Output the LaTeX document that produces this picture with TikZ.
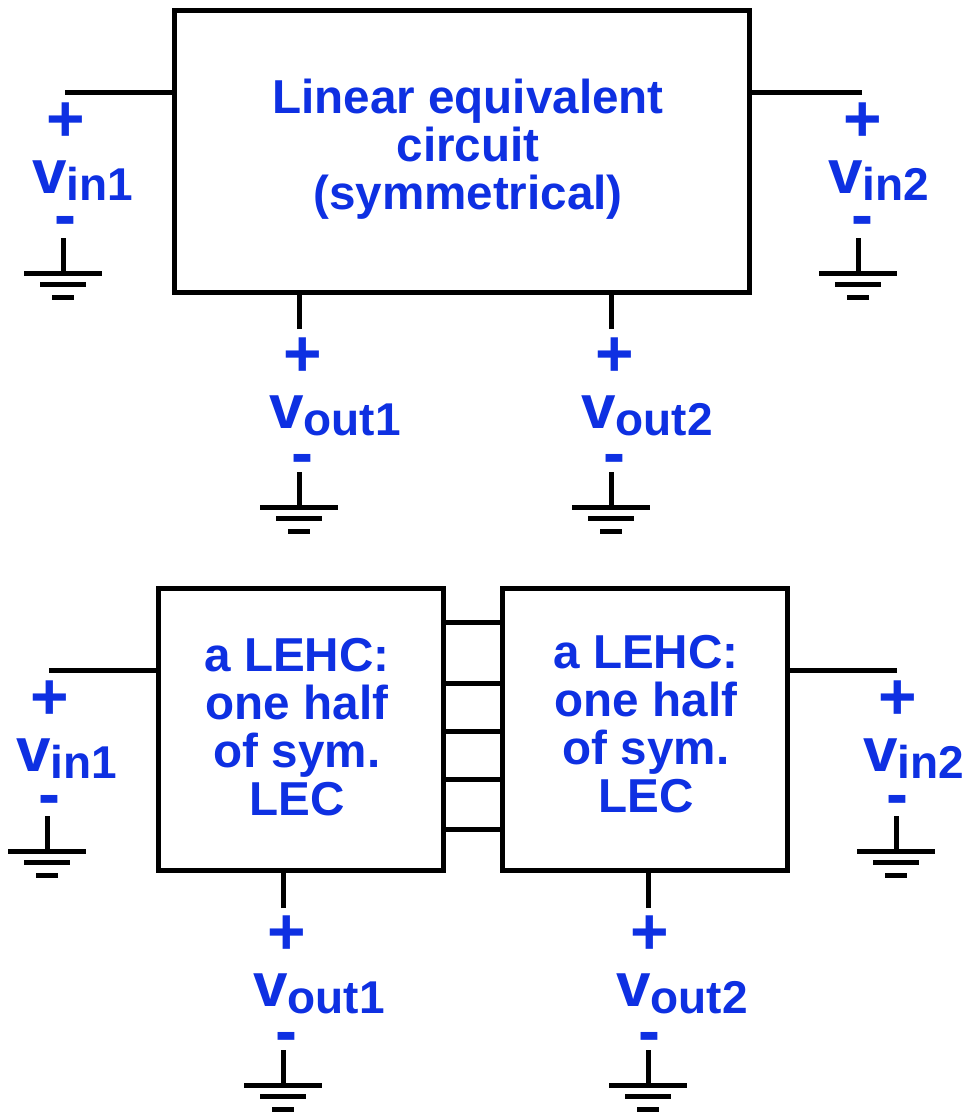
\documentclass[tikz,border=0pt]{standalone}
\usepackage{fontspec}
\setmainfont{Liberation Sans}
\definecolor{lblue}{RGB}{14,48,226}
\tikzset{x=1pt,y=-1pt,
 wire/.style={line width=5pt,black,line cap=butt},
 boxn/.style={draw=black,line width=5pt,inner sep=0pt,outer sep=0pt,anchor=north west},
 txt/.style={text=lblue,font=\fontsize{47.6}{48}\selectfont\bfseries,align=center,inner sep=0pt},
 vlab/.style={text=lblue,font=\fontsize{62}{62}\selectfont\bfseries,inner sep=0pt,anchor=base west},
 pm/.style={text=lblue,font=\fontsize{66}{66}\selectfont\bfseries,inner sep=0pt,anchor=center}}
\newcommand{\sbs}[1]{\raisebox{-7pt}{\fontsize{46}{46}\selectfont #1}}
\newcommand{\gnd}[3]{%
 \coordinate (#3t) at (#1,#2-35);
 \coordinate (#3a) at (#1,#2);
 \coordinate (#3l) at (#1-39,#2); \coordinate (#3r) at (#1+39,#2);
 \coordinate (#3ml) at (#1-23,#2+11); \coordinate (#3mr) at (#1+23,#2+11);
 \coordinate (#3sl) at (#1-11,#2+24); \coordinate (#3sr) at (#1+11,#2+24);
 \draw[wire] (#3t) -- (#3a);
 \draw[wire] (#3l) -- (#3r);
 \draw[wire] (#3ml) -- (#3mr);
 \draw[wire] (#3sl) -- (#3sr);}
\begin{document}
\begin{tikzpicture}
\useasboundingbox (0,0) rectangle (967,1112);
% top
\node[boxn,minimum width=575pt,minimum height=282pt] (B) at (174,10) {};
\node[txt] (Bt) at (468,149) {Linear equivalent\\circuit\\(symmetrical)};
\coordinate (a1) at (65,92);
\coordinate (a2) at (862,92);
\coordinate (a3) at (299,329);
\coordinate (a4) at (611,329);
\draw[wire] (a1) -- (B.west |- a1);
\draw[wire] (a2) -- (B.east |- a2);
\draw[wire] (a3) -- (a3 |- B.south);
\draw[wire] (a4) -- (a4 |- B.south);
\gnd{63}{273}{g1}\gnd{858}{273}{g2}\gnd{299}{507}{g3}\gnd{611}{507}{g4}
\node[pm] (p1) at (66,122) {+};
\node[pm] (p2) at (863,122) {+};
\node[pm] (p3) at (303,357) {+};
\node[pm] (p4) at (615,357) {+};
\node[pm] (m1) at (65,227) {-};
\node[pm] (m2) at (862,227) {-};
\node[pm] (m3) at (302,465) {-};
\node[pm] (m4) at (614,465) {-};
\node[vlab] (v1) at (32,193) {v\sbs{in1}};
\node[vlab] (v2) at (828,193) {v\sbs{in2}};
\node[vlab] (v3) at (269,428) {v\sbs{out1}};
\node[vlab] (v4) at (581,428) {v\sbs{out2}};
% bottom
\node[boxn,minimum width=285pt,minimum height=282pt] (L) at (158,588) {};
\node[boxn,minimum width=285pt,minimum height=282pt] (R) at (502,588) {};
\node[txt] (Lt) at (297,727) {a LEHC:\\one half\\of sym.\\LEC};
\node[txt] (Rt) at (646,724) {a LEHC:\\one half\\of sym.\\LEC};
\coordinate (b1) at (49,670);
\coordinate (b2) at (897,670);
\coordinate (b3) at (283,908);
\coordinate (b4) at (648,908);
\draw[wire] (b1) -- (L.west |- b1);
\draw[wire] (b2) -- (R.east |- b2);
\draw[wire] (b3) -- (b3 |- L.south);
\draw[wire] (b4) -- (b4 |- R.south);
\foreach \y in {622,683,731,779,829}{
 \coordinate (cl) at (444,\y);
 \draw[wire] (L.east |- cl) -- (R.west |- cl);
}
\gnd{47}{851}{g5}\gnd{896}{851}{g6}\gnd{283}{1085}{g7}\gnd{648}{1085}{g8}
\node[pm] (p5) at (50,700) {+};
\node[pm] (p6) at (898,700) {+};
\node[pm] (p7) at (287,935) {+};
\node[pm] (p8) at (650,935) {+};
\node[pm] (m5) at (49,806) {-};
\node[pm] (m6) at (897,806) {-};
\node[pm] (m7) at (286,1043) {-};
\node[pm] (m8) at (649,1043) {-};
\node[vlab] (v5) at (16,771) {v\sbs{in1}};
\node[vlab] (v6) at (863,771) {v\sbs{in2}};
\node[vlab] (v7) at (253,1006) {v\sbs{out1}};
\node[vlab] (v8) at (616,1006) {v\sbs{out2}};
\end{tikzpicture}
\end{document}
